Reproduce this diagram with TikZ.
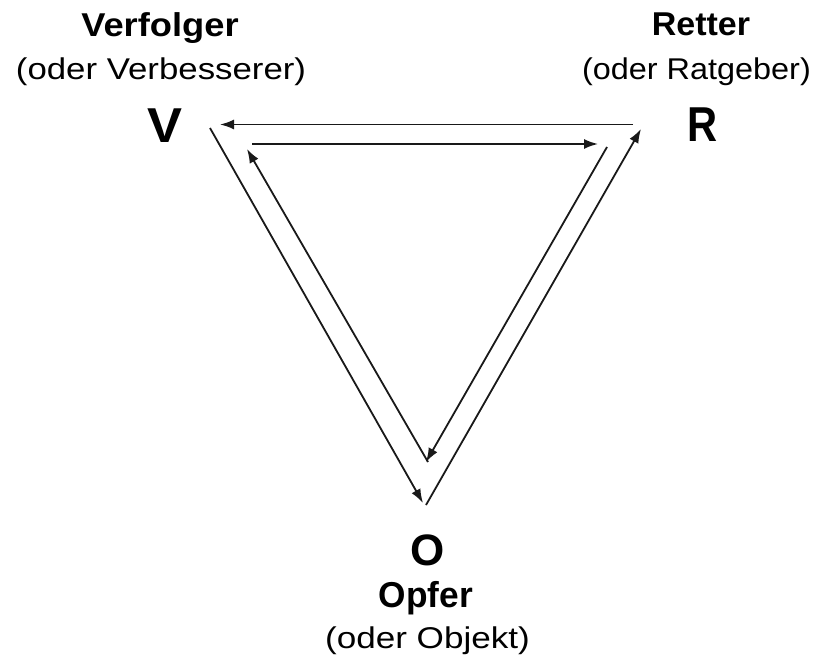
\documentclass[tikz,border=0pt]{standalone}
\usepackage{fontspec}
\setmainfont{Liberation Sans}
\usetikzlibrary{arrows.meta}
\tikzset{
  lbl/.style={anchor=base, inner sep=0pt, outer sep=0pt, text=black},
  conn/.style={line width=1.8pt, draw=black!90, -{Latex[length=14pt,width=10pt]}},
}
\newcommand{\sx}[2]{\scalebox{#1}[1]{#2}}
\begin{document}
\begin{tikzpicture}[x=1pt,y=-1pt]
\fill[white] (0,0) rectangle (821,655);
\useasboundingbox (0,0) rectangle (821,655);
% labels
\node[lbl] (verf) at (160,37) {\fontsize{33}{34}\selectfont\bfseries\sx{1.10}{Verfolger}};
\node[lbl] (verb) at (161,80) {\fontsize{30}{31}\selectfont\sx{1.16}{(oder Verbesserer)}};
\node[lbl] (rett) at (701,36) {\fontsize{33}{34}\selectfont\bfseries\sx{1.03}{Retter}};
\node[lbl] (ratg) at (696.5,80) {\fontsize{30}{31}\selectfont\sx{1.08}{(oder Ratgeber)}};
\node[lbl] (V) at (164.5,143) {\fontsize{49}{50}\selectfont\bfseries\sx{1.07}{V}};
\node[lbl] (R) at (702.5,142) {\fontsize{49}{50}\selectfont\bfseries\sx{0.85}{R}};
\node[lbl] (O) at (427.5,565) {\fontsize{44}{45}\selectfont\bfseries O};
\node[lbl] (opf) at (426,607) {\fontsize{36}{37}\selectfont\bfseries\sx{0.98}{Opfer}};
\node[lbl] (obj) at (427.5,648) {\fontsize{30}{31}\selectfont\sx{1.17}{(oder Objekt)}};
% end points
\coordinate (ot1) at (633,124.5);
\coordinate (ot2) at (220,124.5);
\coordinate (it1) at (252,144);
\coordinate (it2) at (598,144);
\coordinate (ol1) at (210,128);
\coordinate (ol2) at (423,503);
\coordinate (or1) at (426,505);
\coordinate (or2) at (641,129);
\coordinate (ir1) at (607,147);
\coordinate (ir2) at (426,462);
\coordinate (il1) at (428,462);
\coordinate (il2) at (247,149);
% connectors
\draw[conn] (ot1) -- (ot2);
\draw[conn] (it1) -- (it2);
\draw[conn] (ol1) -- (ol2);
\draw[conn] (or1) -- (or2);
\draw[conn] (ir1) -- (ir2);
\draw[conn] (il1) -- (il2);
\end{tikzpicture}
\end{document}
